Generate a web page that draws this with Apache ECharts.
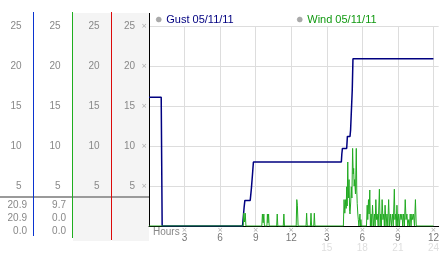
<!DOCTYPE html>
<html><head><meta charset="utf-8">
<script src="https://cdn.jsdelivr.net/npm/echarts@6/dist/echarts.min.js"></script>
<style>html,body{margin:0;padding:0;background:#fff;}#c{width:442px;height:253px;}</style>
</head><body><div id="c"></div>
<script>
var gustName = 'Gust 05/11/11';
var windName = 'Wind 05/11/11';
var yTicks = [5, 10, 15, 20, 25];
var xTicks = [3, 6, 9, 12, 15, 18, 21, 24];

var gustHours  = [0, 1.03, 1.07, 1.11, 7.89, 8.03, 8.09, 8.54, 8.64, 8.73, 8.81, 16.23, 16.27, 16.32, 16.68, 16.74, 16.96, 17.01, 17.15, 17.21, 24];
var gustValues = [16.1, 16.1, 8.1, 0, 0, 2.4, 3.2, 3.2, 4.7, 6.4, 8.0, 8.0, 9.0, 9.7, 9.7, 11.2, 11.2, 12.0, 17.0, 20.9, 20.9];

var windHours = [0, 7.95, 7.99, 8.06, 8.12, 8.18,
  9.52, 9.57, 9.63, 9.69, 9.74, 9.95, 9.99, 10.04, 10.09, 10.14,
  10.77, 10.82, 10.87, 11.33, 11.38, 11.43,
  12.42, 12.47, 12.52, 12.58, 13.25, 13.30, 13.35, 13.62, 13.67, 13.72, 13.90, 13.95, 14.00,
  16.40, 16.46, 16.52, 16.60, 16.64, 16.68, 16.72, 16.77, 16.82, 16.88, 16.93, 16.96, 17.02, 17.07, 17.12,
  17.18, 17.23, 17.27, 17.31, 17.35, 17.42, 17.49, 17.53, 17.57, 17.62, 17.66, 17.71, 17.75, 17.80, 17.84, 17.88, 17.92,
  18.35, 18.41, 18.46, 18.52, 18.57, 18.63, 18.68, 18.74, 18.80, 18.86, 18.94, 19.02, 19.08, 19.14, 19.20, 19.25, 19.34,
  19.44, 19.50, 19.55, 19.61, 19.67, 19.74, 19.81, 19.86, 19.92, 20.00, 20.08, 20.15, 20.22, 20.29, 20.36, 20.45,
  20.53, 20.61, 20.70, 20.75, 20.81, 20.86, 20.92, 20.99, 21.06, 21.13, 21.20, 21.27, 21.34, 21.41, 21.48, 21.55,
  21.62, 21.69, 21.76, 21.84, 21.92, 21.98, 22.04, 22.11, 22.18, 22.25, 22.32, 22.40, 22.48, 22.55, 24];
var windValues = [0, 0, 1.6, 0.5, 1.6, 0,
  0, 1.5, 0.4, 1.5, 0, 0, 1.5, 0.4, 1.5, 0,
  0, 1.5, 0, 0, 1.5, 0,
  0, 3.3, 2.6, 0, 0, 1.6, 0, 0, 1.6, 0, 0, 1.6, 0,
  0, 3.3, 1.6, 3.3, 2.2, 4.9, 2.5, 8.0, 3.5, 5.8, 1.8, 1.5, 3.0, 4.9, 3.5,
  9.7, 6.5, 7.2, 5.0, 5.8, 4.0, 9.7, 4.5, 2.8, 1.5, 0.8, 0, 0, 1.5, 0, 0.8, 0,
  0, 2.6, 0.8, 3.3, 1.5, 4.5, 0, 1.5, 0, 2.6, 0, 1.5, 0, 3.3, 0.8, 1.5, 0,
  4.6, 0, 1.5, 0, 3.3, 0.8, 1.5, 0, 2.6, 0, 1.5, 0, 3.3, 0, 1.5, 0,
  1.5, 0, 4.6, 0.8, 1.5, 0, 2.6, 0, 1.5, 0, 1.5, 0.8, 1.5, 0, 1.5, 0,
  3.3, 0.8, 1.5, 0, 0.8, 0, 1.5, 0, 1.5, 0.8, 1.5, 0, 3.3, 0, 0];

function stats(arr) {
  var mx = Math.max.apply(null, arr), mn = Math.min.apply(null, arr), last = arr[arr.length - 1];
  return [mx.toFixed(1), last.toFixed(1), mn.toFixed(1)];
}
var gustStats = stats(gustValues);
var windStats = stats(windValues);

var FONT = 'Liberation Sans';
var gridLeft = 149, yMax = 25, xMax = 24.44;

function pairs(h, v) { return h.map(function (x, i) { return [x, v[i]]; }); }

function yLabel(v) { return yTicks.indexOf(v) >= 0 ? String(v) : ''; }

function panelAxis(offset) {
  return {
    type: 'value', position: 'left', offset: offset, min: 0, max: yMax, interval: 5,
    axisLine: { show: false }, axisTick: { show: false }, splitLine: { show: false },
    axisLabel: { margin: 12, color: '#888', fontFamily: FONT, fontSize: 10, formatter: yLabel }
  };
}

var chart = echarts.init(document.getElementById('c'), null, { renderer: 'canvas' });

var graphics = [
  { type: 'rect', shape: { x: 73, y: 13, width: 38, height: 228 }, style: { fill: '#f4f4f4' }, z: -10 },
  { type: 'rect', shape: { x: 112, y: 13, width: 37, height: 228 }, style: { fill: '#f4f4f4' }, z: -10 },
  { type: 'line', shape: { x1: 0, y1: 197, x2: 149, y2: 197 }, style: { stroke: '#9a9a9a', lineWidth: 2 }, z: 5 },
  { type: 'rect', shape: { x: 33, y: 12, width: 1, height: 224 }, style: { fill: '#0a34d0' }, z: 6 },
  { type: 'rect', shape: { x: 72, y: 12, width: 1, height: 226 }, style: { fill: '#1fae1f' }, z: 6 },
  { type: 'rect', shape: { x: 111, y: 12, width: 1, height: 228 }, style: { fill: '#dc0a0a' }, z: 6 },
  { type: 'rect', shape: { x: 149, y: 13, width: 1, height: 14 }, style: { fill: '#000' }, z: 6 },
  { type: 'text', x: 153, y: 232, style: { text: 'Hours', fill: '#888', font: '10px "' + FONT + '"', textVerticalAlign: 'middle', textAlign: 'left' }, z: 6 }
];
var rowsY = [205, 218.5, 231];
[gustStats, windStats].forEach(function (st, col) {
  var xr = col === 0 ? 27 : 66;
  st.forEach(function (s, r) {
    graphics.push({ type: 'text', x: xr, y: rowsY[r],
      style: { text: s, fill: '#888', font: '10px "' + FONT + '"', textAlign: 'right', textVerticalAlign: 'middle' }, z: 6 });
  });
});

var legendBase = {
  top: 14, padding: 0, itemWidth: 5, itemHeight: 5, icon: 'circle', selectedMode: false,
  itemStyle: { color: '#aaa', borderColor: '#999', borderWidth: 0.5 }
};

chart.setOption({
  animation: false,
  backgroundColor: '#fff',
  textStyle: { fontFamily: FONT },
  grid: { left: gridLeft, right: 0, top: 26, bottom: 27, containLabel: false },
  legend: [
    Object.assign({}, legendBase, { left: 156, data: [gustName], textStyle: { color: '#000080', fontSize: 11, fontFamily: FONT } }),
    Object.assign({}, legendBase, { left: 297, data: [windName], textStyle: { color: '#119911', fontSize: 11, fontFamily: FONT } })
  ],
  xAxis: {
    type: 'value', min: 0, max: xMax, interval: 3,
    axisLine: { show: true, lineStyle: { color: '#000', width: 1 } },
    axisTick: { show: false },
    splitLine: { show: true, showMaxLine: false, lineStyle: { color: '#dddddd', width: 1 } },
    axisLabel: {
      margin: 1, fontFamily: FONT, fontSize: 10, color: '#666', align: 'center', verticalAlign: 'top',
      formatter: function (v) {
        if (xTicks.indexOf(v) < 0) return '';
        var h12 = v > 12 ? v - 12 : v;
        var s = '{m|×}\n{a|' + h12 + '}';
        if (v > 12) s += '\n{b|' + v + '}';
        return s;
      },
      rich: {
        m: { fontSize: 7, lineHeight: 7, color: '#aaa', fontFamily: 'DejaVu Sans' },
        a: { fontSize: 10, lineHeight: 9, color: '#777', fontFamily: FONT },
        b: { fontSize: 10, lineHeight: 10, color: '#dedede', fontFamily: FONT }
      }
    }
  },
  yAxis: [
    {
      type: 'value', position: 'left', min: 0, max: yMax, interval: 5,
      axisLine: { show: true, lineStyle: { color: '#000', width: 1 } },
      axisTick: { show: false },
      splitLine: { show: true, lineStyle: { color: '#dddddd', width: 1 } },
      axisLabel: {
        margin: 2, fontFamily: FONT,
        formatter: function (v) { return yTicks.indexOf(v) >= 0 ? '{n|' + v + '}{m|×}' : ''; },
        rich: {
          n: { fontSize: 10, color: '#888', fontFamily: FONT },
          m: { fontSize: 7, color: '#aaa', padding: [0, 0, 0, 6], fontFamily: 'DejaVu Sans' }
        }
      }
    },
    panelAxis(gridLeft - 111.5),
    panelAxis(gridLeft - 72.5),
    panelAxis(gridLeft - 33.5)
  ],
  graphic: graphics,
  series: [
    { name: gustName, type: 'line', data: pairs(gustHours, gustValues), showSymbol: false, symbol: 'none',
      lineStyle: { color: '#000080', width: 1.5 }, itemStyle: { color: '#000080' }, z: 3 },
    { name: windName, type: 'line', data: pairs(windHours, windValues), showSymbol: false, symbol: 'none',
      lineStyle: { color: '#22aa22', width: 1 }, itemStyle: { color: '#22aa22' }, z: 4 }
  ]
});
</script></body></html>
